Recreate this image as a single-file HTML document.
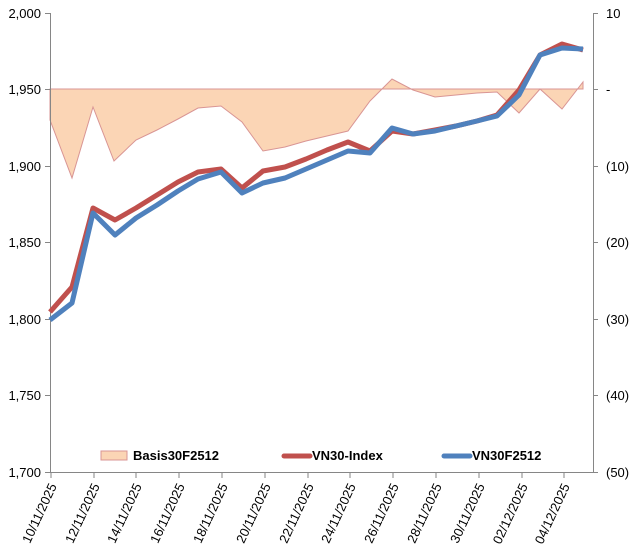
<!DOCTYPE html>
<html><head><meta charset="utf-8"><style>
html,body{margin:0;padding:0;background:#fff;}
svg{display:block;font-family:"Liberation Sans",Arial,sans-serif;}
</style></head><body>
<svg width="635" height="552" viewBox="0 0 635 552" xmlns="http://www.w3.org/2000/svg">
<rect width="635" height="552" fill="#fff"/>
<polygon fill="#fbd5b5" stroke="#d99594" stroke-width="1" points="50,89 50,120 72,178 93,107 114,161 136,140 157,130 178,119 198,108 221,106 242,122 263,151 285,147 306,141 327,136 348,131 370,101 392,79 413,90 435,97 456,95 477,93 497,92 519,113 540,89 562,109 583,82 583,89"/>
<line x1="50" y1="89" x2="583" y2="89" stroke="#d99594" stroke-width="1"/>
<g stroke="#868686" stroke-width="1">
<line x1="50.5" y1="13" x2="50.5" y2="473"/>
<line x1="593.5" y1="13" x2="593.5" y2="473"/>
<line x1="50" y1="472.5" x2="594" y2="472.5"/>
<line x1="45" y1="13.5" x2="50" y2="13.5"/><line x1="45" y1="89.5" x2="50" y2="89.5"/><line x1="45" y1="166.5" x2="50" y2="166.5"/><line x1="45" y1="242.5" x2="50" y2="242.5"/><line x1="45" y1="319.5" x2="50" y2="319.5"/><line x1="45" y1="395.5" x2="50" y2="395.5"/><line x1="45" y1="472.5" x2="50" y2="472.5"/>
<line x1="593" y1="13.5" x2="598" y2="13.5"/><line x1="593" y1="89.5" x2="598" y2="89.5"/><line x1="593" y1="166.5" x2="598" y2="166.5"/><line x1="593" y1="242.5" x2="598" y2="242.5"/><line x1="593" y1="319.5" x2="598" y2="319.5"/><line x1="593" y1="395.5" x2="598" y2="395.5"/><line x1="593" y1="472.5" x2="598" y2="472.5"/>
<line x1="51" y1="473" x2="51" y2="478"/><line x1="94" y1="473" x2="94" y2="478"/><line x1="136" y1="473" x2="136" y2="478"/><line x1="179" y1="473" x2="179" y2="478"/><line x1="222" y1="473" x2="222" y2="478"/><line x1="265" y1="473" x2="265" y2="478"/><line x1="308" y1="473" x2="308" y2="478"/><line x1="350" y1="473" x2="350" y2="478"/><line x1="393" y1="473" x2="393" y2="478"/><line x1="436" y1="473" x2="436" y2="478"/><line x1="479" y1="473" x2="479" y2="478"/><line x1="522" y1="473" x2="522" y2="478"/><line x1="564" y1="473" x2="564" y2="478"/>
</g>
<polyline fill="none" stroke="#c0504d" stroke-width="5" stroke-linejoin="round" points="50,312 72,287 93,208 115,220 136,208 157,195 178,182 198,172 221,169 242,188 263,171 285,167 306,159 327,150 348,142 370,151 392,131 413,134 435,130 456,126 477,121 497,115 519,90 540,55 562,44 583,50"/>
<polyline fill="none" stroke="#4f81bd" stroke-width="5" stroke-linejoin="round" points="50,320 72,303 93,213 115,235 136,218 157,205 178,191 198,179 221,172 242,193 263,183 285,178 306,169 327,160 348,151 370,153 392,128 413,134 435,131 456,126 477,121 497,116 519,95 540,55 562,48 583,49"/>
<g font-size="13" fill="#000" text-anchor="end">
<text x="41" y="18">2,000</text><text x="41" y="94">1,950</text><text x="41" y="171">1,900</text><text x="41" y="247">1,850</text><text x="41" y="324">1,800</text><text x="41" y="400">1,750</text><text x="41" y="477">1,700</text>
</g>
<g font-size="13" fill="#000" text-anchor="start">
<text x="606" y="18">10</text><text x="606" y="94">-</text><text x="606" y="171">(10)</text><text x="606" y="247">(20)</text><text x="606" y="324">(30)</text><text x="606" y="400">(40)</text><text x="606" y="477">(50)</text>
</g>
<g font-size="13" fill="#000" text-anchor="end">
<text transform="translate(57,486) rotate(-65)">10/11/2025</text>
<text transform="translate(100,486) rotate(-65)">12/11/2025</text>
<text transform="translate(142,486) rotate(-65)">14/11/2025</text>
<text transform="translate(185,486) rotate(-65)">16/11/2025</text>
<text transform="translate(228,486) rotate(-65)">18/11/2025</text>
<text transform="translate(271,486) rotate(-65)">20/11/2025</text>
<text transform="translate(314,486) rotate(-65)">22/11/2025</text>
<text transform="translate(356,486) rotate(-65)">24/11/2025</text>
<text transform="translate(399,486) rotate(-65)">26/11/2025</text>
<text transform="translate(442,486) rotate(-65)">28/11/2025</text>
<text transform="translate(485,486) rotate(-65)">30/11/2025</text>
<text transform="translate(528,486) rotate(-65)">02/12/2025</text>
<text transform="translate(570,486) rotate(-65)">04/12/2025</text>
</g>
<rect x="101" y="451" width="26" height="9" fill="#fbd5b5" stroke="#d99594"/>
<text x="133" y="460" font-size="13" font-weight="bold">Basis30F2512</text>
<line x1="284" y1="456" x2="310" y2="456" stroke="#c0504d" stroke-width="5" stroke-linecap="round"/>
<text x="312" y="460" font-size="13" font-weight="bold">VN30-Index</text>
<line x1="444" y1="456" x2="470" y2="456" stroke="#4f81bd" stroke-width="5" stroke-linecap="round"/>
<text x="472" y="460" font-size="13" font-weight="bold">VN30F2512</text>
</svg>
</body></html>
